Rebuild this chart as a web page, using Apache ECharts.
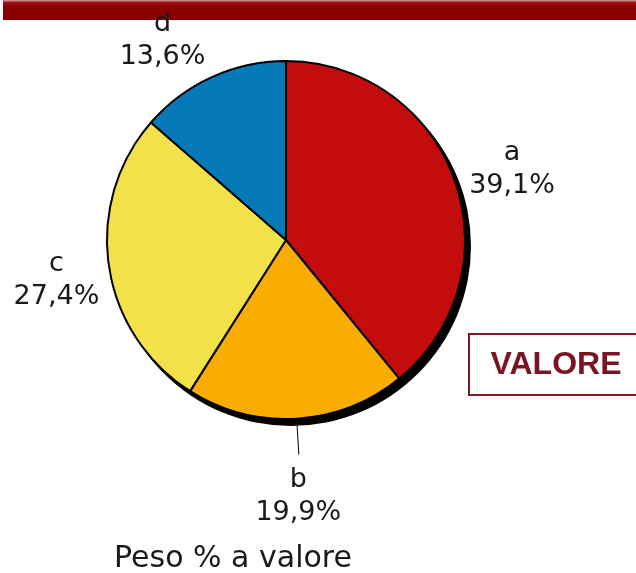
<!DOCTYPE html>
<html lang="it">
<head>
    <meta charset="UTF-8">
    <title>Peso % a valore</title>
    <style>
        html, body { margin: 0; padding: 0; background: #fff; }
    </style>
</head>
<body>
<div id="main" style="width: 636px;height:573px;"></div>
<script src="https://cdn.jsdelivr.net/npm/echarts@6/dist/echarts.min.js"></script>
<script>
    // dati del grafico
    var categories = ['a', 'b', 'c', 'd'];
    var shares = [39.1, 19.9, 27.4, 13.6];
    var sliceColors = ['#C30D0D', '#F8AD00', '#F3E14A', '#0679B8'];
    var titleText = 'Peso % a valore';
    var badgeText = 'VALORE';

    var CX = 286, CY = 240, R = 179;
    var LABEL_R = 240;
    // piccoli spostamenti delle etichette rispetto alla posizione radiale
    var labelNudge = { a: [0, 10], b: [-2, 17], c: [8, 6], d: [-24, 19] };

    // angolo medio di ogni fetta (da ore 12, senso orario)
    var total = shares.reduce(function (s, v) { return s + v; }, 0);
    var midAngles = [];
    var cum = 0;
    shares.forEach(function (v) {
        midAngles.push((cum + v / 2) / total * 2 * Math.PI);
        cum += v;
    });

    var pieData = categories.map(function (name, i) {
        return {
            name: name,
            value: shares[i],
            itemStyle: { color: sliceColors[i] },
            labelLine: { show: name === 'b' }
        };
    });

    var myChart = echarts.init(document.getElementById('main'));

    var option = {
        backgroundColor: '#fff',
        animation: false,
        graphic: [
            {
                type: 'rect', z: 0,
                shape: { x: 3, y: 0, width: 633, height: 20 },
                style: {
                    fill: new echarts.graphic.LinearGradient(0, 0, 0, 1, [
                        { offset: 0, color: '#d9a0a0' },
                        { offset: 0.12, color: '#9c1414' },
                        { offset: 0.35, color: '#8c0003' },
                        { offset: 1, color: '#880000' }
                    ])
                }
            },
            {
                type: 'rect', z: 0,
                shape: { x: 469, y: 334, width: 180, height: 61 },
                style: { fill: '#fff', stroke: '#7d1a24', lineWidth: 2 }
            },
            {
                type: 'text', z: 1,
                x: 556, y: 365,
                style: {
                    text: badgeText,
                    font: 'bold 32px "Liberation Sans", Arial, sans-serif',
                    fill: '#7b1421',
                    align: 'center', verticalAlign: 'middle',
                    textAlign: 'center', textVerticalAlign: 'middle'
                }
            },
            {
                type: 'text', z: 1,
                x: 233, y: 559,
                style: {
                    text: titleText,
                    font: '30px "DejaVu Sans", sans-serif',
                    fill: '#1a1a1a',
                    align: 'center', verticalAlign: 'middle',
                    textAlign: 'center', textVerticalAlign: 'middle'
                }
            }
        ],
        series: [
            {
                // ombra nera dietro la torta
                type: 'pie',
                silent: true,
                z: 1,
                center: [CX + 5, CY + 6],
                radius: R + 1,
                label: { show: false },
                labelLine: { show: false },
                data: [{ value: 1, itemStyle: { color: '#000' } }]
            },
            {
                name: titleText,
                type: 'pie',
                z: 2,
                center: [CX, CY],
                radius: R,
                startAngle: 90,
                clockwise: true,
                itemStyle: { borderColor: '#000', borderWidth: 2 },
                emphasis: { disabled: true },
                label: {
                    show: true,
                    position: 'outside',
                    overflow: 'none',
                    color: '#1a1a1a',
                    fontFamily: 'DejaVu Sans',
                    fontSize: 27,
                    lineHeight: 33,
                    formatter: function (p) {
                        return p.name + '\n' + p.value.toFixed(1).replace('.', ',') + '%';
                    }
                },
                labelLine: {
                    show: false,
                    lineStyle: { color: '#000', width: 1 }
                },
                labelLayout: function (params) {
                    var i = params.dataIndex;
                    var ux = Math.sin(midAngles[i]);
                    var uy = -Math.cos(midAngles[i]);
                    var n = labelNudge[categories[i]];
                    var res = {
                        x: CX + ux * LABEL_R + n[0],
                        y: CY + uy * LABEL_R + n[1],
                        align: 'center',
                        verticalAlign: 'middle',
                        width: 200
                    };
                    if (labelLine(i)) {
                        res.labelLinePoints = [
                            [CX + ux * (R + 6), CY + uy * (R + 6)],
                            [CX + ux * (R + 36), CY + uy * (R + 36)],
                            [CX + ux * (R + 36), CY + uy * (R + 36)]
                        ];
                    }
                    return res;
                },
                data: pieData
            }
        ]
    };

    function labelLine(i) {
        return pieData[i].labelLine.show;
    }

    myChart.setOption(option);
</script>
</body>
</html>
